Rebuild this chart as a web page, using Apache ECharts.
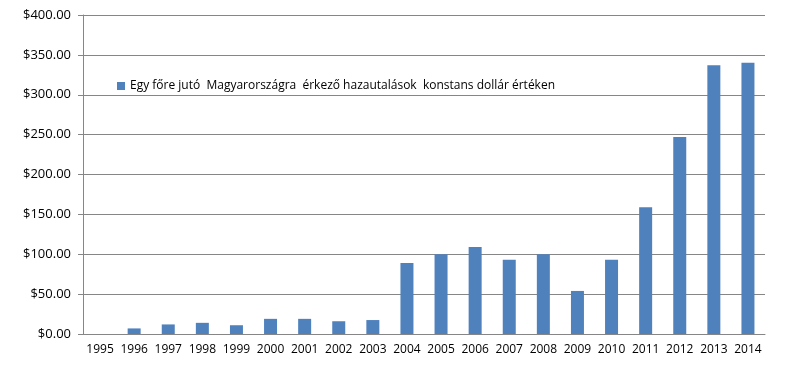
<!DOCTYPE html>
<html>
<head>
<meta charset="utf-8">
<script src="https://cdn.jsdelivr.net/npm/echarts@6/dist/echarts.min.js"></script>
<style>
html, body { margin: 0; padding: 0; background: #fff; }
#main { width: 800px; height: 376px; }
</style>
</head>
<body>
<div id="main"></div>
<script>
var years = ['1995', '1996', '1997', '1998', '1999', '2000', '2001', '2002', '2003', '2004',
    '2005', '2006', '2007', '2008', '2009', '2010', '2011', '2012', '2013', '2014'];
var remittance = [0, 7, 12, 14, 11, 19, 19, 16, 17.5, 89,
    100, 109, 93, 100, 54, 93, 159, 247, 337, 340];
var seriesName = 'Egy főre jutó  Magyarországra  érkező hazautalások  konstans dollár értéken';

var myChart = echarts.init(document.getElementById('main'), null, {renderer: 'canvas'});

option = {
    backgroundColor: '#ffffff',
    textStyle: { fontFamily: 'Open Sans' },
    legend: {
        left: 112,
        top: 75,
        icon: 'rect',
        itemWidth: 8,
        itemHeight: 8,
        itemGap: 5,
        textStyle: { color: '#000', fontSize: 12, fontFamily: 'Open Sans' },
        data: [seriesName]
    },
    grid: {
        left: 83,
        right: 35,
        top: 15,
        bottom: 42
    },
    xAxis: {
        type: 'category',
        data: years,
        axisLine: { lineStyle: { color: '#868686' } },
        axisTick: { alignWithLabel: false, length: 4, lineStyle: { color: '#868686' } },
        axisLabel: { color: '#000', fontSize: 12, margin: 10, interval: 0 }
    },
    yAxis: {
        type: 'value',
        min: 0,
        max: 400,
        interval: 50,
        axisLine: { show: true, lineStyle: { color: '#868686' } },
        axisTick: { show: true, length: 5, lineStyle: { color: '#868686' } },
        splitLine: { lineStyle: { color: '#868686' } },
        axisLabel: {
            color: '#000',
            fontSize: 13,
            margin: 12,
            formatter: function (v) { return '$' + v.toFixed(2); }
        }
    },
    series: [{
        name: seriesName,
        type: 'bar',
        data: remittance,
        barWidth: 13,
        itemStyle: { color: '#4F81BD' }
    }]
};

myChart.setOption(option);
</script>
</body>
</html>
